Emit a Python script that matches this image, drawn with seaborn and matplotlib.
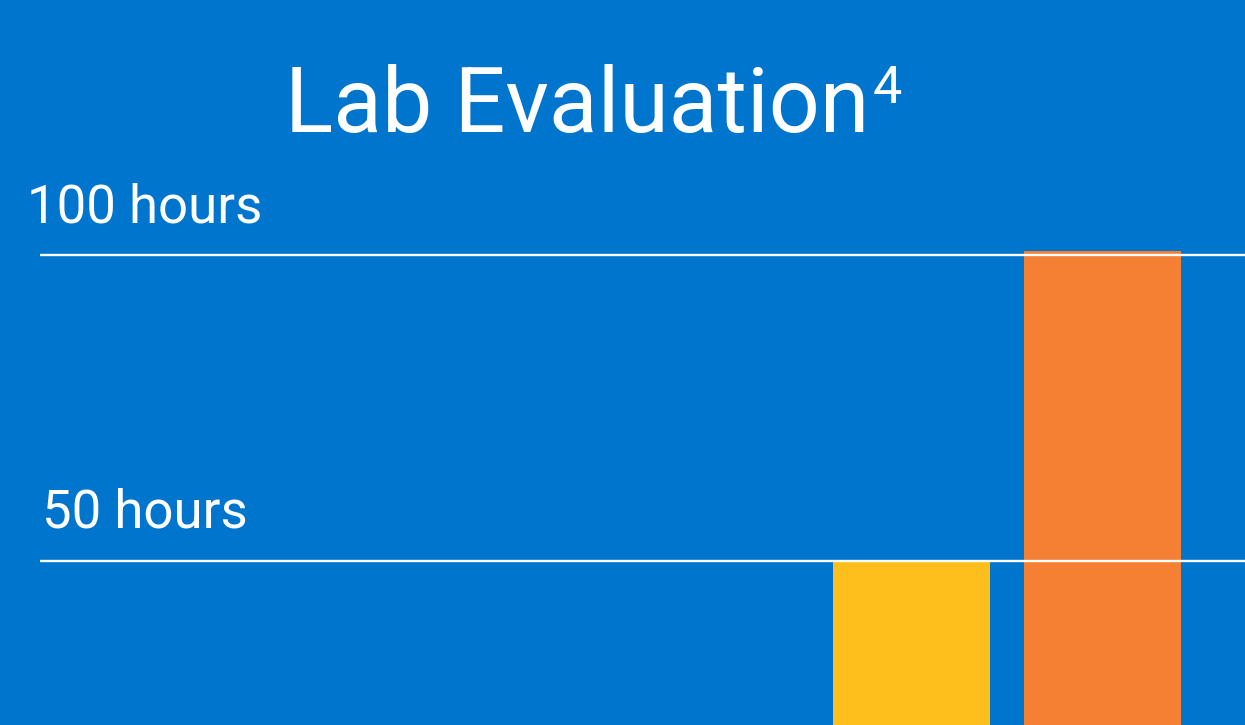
import matplotlib
matplotlib.use("Agg")
import matplotlib.pyplot as plt
import seaborn as sns
import pandas as pd

# data
methods = ["Method A", "Method B"]
hours = [50, 100.6]
bar_colors = ["#FEBE1C", "#F58033"]
grid_hours = [50, 100]

BG = "#0075CE"

sns.set_theme(style="white")
plt.rcParams["font.family"] = ["Roboto", "DejaVu Sans"]

fig = plt.figure(figsize=(12.45, 7.25), dpi=100, facecolor=BG)
ax = fig.add_axes([40 / 1245, 0, 1205 / 1245, 1])
ax.set_facecolor(BG)

df = pd.DataFrame({"method": methods, "hours": hours})
sns.barplot(data=df, x="method", y="hours", hue="method", palette=bar_colors,
            width=0.82, saturation=1, legend=False, ax=ax, zorder=2,
            linewidth=0)

ax.set_xlim(-4.563, 1.746)
ax.set_ylim(23.2, 141.67)
for s in ax.spines.values():
    s.set_visible(False)
ax.set_xticks([])
ax.set_yticks([])
ax.set_xlabel("")
ax.set_ylabel("")

# gridlines with labels above them
for v in grid_hours:
    ax.axhline(v, color="white", lw=1.7, zorder=3)
    ax.annotate(f"{v} hours", xy=(145, v), xycoords=("figure pixels", "data"),
                xytext=(0, 33), textcoords="offset pixels",
                ha="center", va="baseline", color="white", fontsize=38)

# title with superscript footnote marker
title = fig.text(577 / 1245, 1 - 132 / 725, "Lab Evaluation", ha="center",
                 va="baseline", color="white", fontsize=64.5)
ax.annotate("4", xy=(1, 0), xycoords=title, xytext=(3, 47),
            textcoords="offset pixels", ha="left", va="baseline",
            color="white", fontsize=37.5)

fig.savefig("out.png", dpi=100, facecolor=BG)
